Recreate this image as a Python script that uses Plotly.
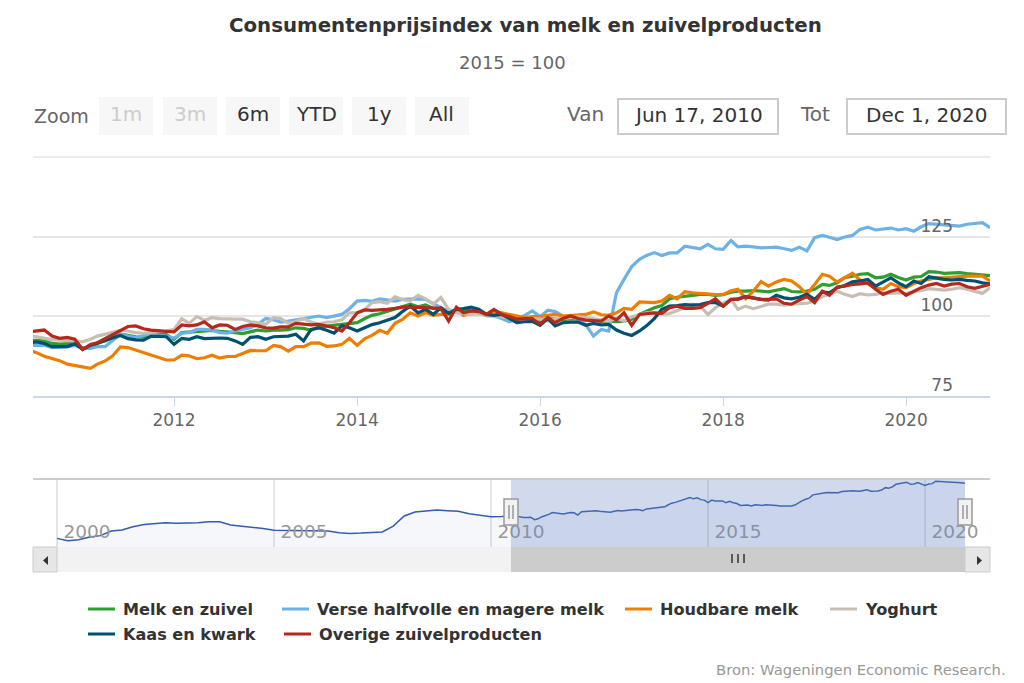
import plotly.graph_objects as go


def px_x(x):
    return x / 1024


def px_y(y):
    return 1 - y / 683


def box(x0, y0, x1, y1, fill, line='rgba(0,0,0,0)', width=0):
    return dict(type='rect', xref='paper', yref='paper', x0=px_x(x0), x1=px_x(x1), y0=px_y(y0), y1=px_y(y1),
                fillcolor=fill, line=dict(color=line, width=width))


def seg(x0, y0, x1, y1, color, width=1):
    return dict(type='line', xref='paper', yref='paper', x0=px_x(x0), x1=px_x(x1), y0=px_y(y0), y1=px_y(y1),
                line=dict(color=color, width=width))


def arrow(x0, x1, y0, y1):
    # x0 is the side of the base, x1 the point
    path = 'M {} {} L {} {} L {} {} Z'.format(px_x(x0), px_y(y0), px_x(x1), px_y((y0 + y1) / 2), px_x(x0), px_y(y1))
    return dict(type='path', xref='paper', yref='paper', path=path, fillcolor='#333333', line=dict(width=0))


def label(x, y, text, size, color, anchor='left', bold=False):
    return dict(xref='paper', yref='paper', x=px_x(x), y=px_y(y), text='<b>{}</b>'.format(text) if bold else text,
                showarrow=False, xanchor=anchor, yanchor='middle', font=dict(size=size, color=color))


def main():
    print('building the series...')
    # monthly values, Jun 2010 up to Dec 2020
    dates = ['2010-06-01']
    for year in range(2010, 2021):
        for month in range(1, 13):
            if year > 2010 or month > 6:
                dates.append('{}-{:02d}-01'.format(year, month))

    melk = [92.5, 92.5, 92.2, 91.5, 91.3, 91.3, 91.5, 90.0, 90.5, 91.7, 92.3, 93.3, 94.4, 94.0, 93.6, 93.5, 94.0, 94.4,
            94.3, 92.8, 94.9, 95.1, 95.2, 95.5, 95.6, 95.3, 95.2, 94.9, 94.6, 95.2, 95.7, 95.4, 95.7, 95.7, 95.8, 96.4,
            96.2, 95.6, 96.7, 96.9, 97.2, 97.3, 97.8,
            98.0, 99.3, 100.3, 100.8, 101.5, 102.2, 103.0, 103.8, 103.0, 103.6, 102.5, 102.2, 100.6, 102.2, 101.7,
            101.9, 101.7, 100.6, 101.5, 100.6, 100.1, 98.9, 99.1, 99.1, 98.5, 99.3, 99.1, 98.9, 99.3, 99.3, 99.1, 98.9,
            98.5, 98.5, 98.3, 98.5, 99.1, 100.6, 101.7, 102.7,
            103.4, 105.5, 106.0, 106.2, 106.6, 106.9, 106.9, 106.6, 106.8, 107.6, 107.9, 107.9, 108.1, 107.9, 107.7,
            108.2, 108.7, 107.8, 107.7, 107.9, 108.5, 110.0, 109.7, 110.5, 112.1, 112.6, 113.2, 113.4, 112.1, 112.3,
            113.2, 112.2, 111.4, 112.3, 112.5, 114.0, 113.9, 113.5, 113.5, 113.7, 113.4, 113.2, 113.1, 112.8]

    verse = [90.9, 90.9, 90.9, 90.2, 90.3, 90.5, 90.9, 89.9, 89.9, 90.5, 90.5, 92.3, 94.4, 93.8, 93.3, 94.0, 94.4, 94.0,
             93.8, 93.2, 94.7, 94.9, 95.9, 95.9, 95.7, 94.9, 94.7, 95.4, 95.9, 96.4, 97.5, 99.3, 98.9, 98.2, 98.5, 98.9,
             99.1, 99.6, 100.1, 99.6, 100.1, 100.6, 102.4,
             104.8, 105.0, 104.7, 105.5, 105.2, 104.8, 105.3, 105.5, 105.5, 105.3, 104.0, 102.7, 101.7, 101.7, 101.1,
             101.1, 101.1, 100.1, 100.1, 99.3, 98.3, 99.3, 100.3, 101.7, 99.9, 101.9, 101.5, 100.1, 99.9, 99.1, 97.5,
             93.8, 95.9, 95.4, 107.4, 111.6, 115.6, 117.9, 119.1, 120.0,
             119.1, 119.9, 119.9, 122.0, 121.7, 121.2, 122.6, 121.2, 121.0, 123.8, 121.8, 122.0, 121.8, 121.5, 121.6,
             121.7, 121.2, 120.7, 121.7, 120.5, 124.7, 125.4, 124.8, 124.1, 124.9, 125.4, 127.3, 128.0, 127.1, 127.5,
             127.7, 127.1, 127.5, 126.7, 128.1, 129.1, 128.9, 128.7, 128.3, 128.3, 128.9, 129.1, 129.4, 127.8]

    houdbaar = [89.4, 88.6, 87.5, 86.7, 86.1, 85.0, 84.6, 84.2, 83.7, 85.0, 86.0, 87.6, 90.4, 90.2, 89.4, 88.5, 87.8,
                87.1, 86.3, 86.3, 87.8, 87.6, 86.7, 87.0, 87.8, 86.9, 87.4, 87.4, 88.4, 89.3, 89.2, 89.2, 90.9, 90.5,
                89.1, 90.5, 90.5, 91.6, 91.7, 90.6, 90.7, 91.2, 93.1,
                90.9, 93.0, 94.0, 95.6, 94.7, 97.8, 99.0, 101.1, 100.1, 101.1, 100.3, 100.6, 100.6, 102.2, 100.3, 101.1,
                101.4, 100.6, 101.5, 101.1, 100.6, 99.9, 99.6, 99.9, 99.9, 100.3, 100.6, 100.1, 100.3, 100.5, 100.6,
                101.4, 100.5, 100.3, 101.1, 102.5, 102.2, 104.5, 104.3, 104.3,
                104.8, 106.6, 105.5, 107.7, 107.4, 107.2, 107.0, 106.8, 106.9, 108.0, 108.5, 105.5, 107.9, 110.9, 109.5,
                110.8, 111.6, 111.1, 109.3, 106.9, 110.0, 113.2, 112.6, 110.8, 112.1, 113.5, 111.4, 110.3, 109.0, 108.5,
                110.3, 109.3, 109.0, 110.3, 111.1, 111.6, 112.1, 112.1, 112.3, 112.3, 112.6, 112.6, 112.6, 111.1]

    yoghurt = [94.0, 93.5, 93.0, 92.7, 92.5, 92.5, 92.3, 92.0, 92.8, 93.8, 94.4, 94.9, 95.6, 95.4, 94.9, 94.7, 94.9,
               95.1, 95.4, 95.9, 99.3, 97.8, 99.9, 98.8, 99.6, 99.3, 99.1, 99.1, 99.1, 98.3, 98.0, 97.5, 99.6, 99.3,
               97.8, 98.4, 99.3, 98.2, 97.5, 98.2, 98.3, 98.9, 101.1,
               101.1, 102.2, 104.3, 104.6, 104.1, 106.1, 105.3, 104.8, 106.6, 105.5, 103.8, 105.9, 102.2, 101.1, 100.9,
               100.6, 100.8, 100.3, 100.1, 99.9, 99.3, 98.0, 98.5, 99.3, 99.1, 98.5, 99.1, 99.3, 99.4, 99.8, 99.6, 99.3,
               98.9, 98.5, 99.4, 98.5, 99.9, 100.6, 101.1, 101.1,
               100.6, 100.9, 101.7, 102.7, 103.8, 103.2, 100.6, 102.7, 104.1, 105.3, 102.2, 103.2, 102.4, 103.0, 103.8,
               103.8, 103.5, 103.8, 104.0, 104.1, 104.8, 106.2, 106.9, 107.9, 106.9, 106.2, 107.1, 106.7, 106.9, 107.4,
               107.2, 107.4, 107.2, 107.6, 108.1, 108.7, 108.5, 108.2, 108.5, 109.0, 108.5, 107.9, 107.2, 109.0]

    kaas = [91.7, 92.0, 91.5, 90.5, 90.5, 90.5, 91.4, 89.6, 90.9, 91.5, 92.5, 93.3, 94.0, 93.0, 92.6, 92.5, 93.7, 93.7,
            93.6, 91.2, 93.1, 92.8, 93.6, 93.0, 93.2, 93.2, 93.1, 92.3, 91.2, 93.4, 93.6, 92.8, 93.6, 93.6, 93.8, 94.4,
            92.3, 95.9, 96.4, 95.6, 94.7, 97.0, 96.4,
            95.4, 96.4, 97.4, 98.0, 98.8, 99.6, 101.5, 103.2, 101.1, 102.2, 100.6, 102.7, 100.9, 102.2, 102.4, 102.9,
            102.2, 100.6, 100.3, 100.6, 99.3, 98.0, 98.3, 98.4, 97.2, 99.3, 97.0, 98.0, 98.2, 98.2, 97.2, 97.8, 97.3,
            97.5, 95.7, 94.7, 94.0, 95.4, 97.0, 99.3,
            102.2, 103.2, 103.4, 103.7, 103.5, 103.7, 104.3, 104.3, 103.2, 105.3, 105.5, 106.2, 105.8, 105.3, 105.1,
            106.6, 105.8, 105.5, 106.0, 106.9, 105.3, 107.7, 107.4, 109.0, 109.7, 110.8, 111.1, 111.6, 109.5, 110.8,
            112.1, 110.5, 109.3, 111.1, 110.3, 112.4, 111.9, 111.6, 111.4, 111.6, 111.3, 111.1, 110.5, 110.2]

    overig = [95.1, 95.4, 95.7, 93.8, 93.1, 93.4, 92.8, 89.6, 91.2, 91.7, 93.0, 94.0, 95.4, 96.8, 97.0, 96.1, 95.7, 95.6,
              95.3, 95.1, 97.3, 97.0, 97.3, 98.3, 96.4, 97.3, 97.2, 95.9, 96.8, 97.3, 97.0, 96.4, 96.3, 96.7, 96.7, 97.8,
              97.6, 97.3, 97.5, 97.0, 96.4, 95.4, 98.0,
              101.1, 102.0, 101.9, 102.0, 102.2, 102.5, 102.9, 102.9, 102.8, 102.7, 102.6, 102.5, 98.5, 102.9, 101.1,
              101.7, 101.5, 100.6, 102.2, 100.6, 99.9, 99.1, 99.3, 99.3, 97.5, 99.6, 98.0, 99.3, 100.1, 99.3, 98.8, 98.6,
              98.5, 100.1, 98.9, 101.1, 97.2, 100.6, 100.9, 101.1,
              100.9, 102.7, 103.2, 102.5, 102.5, 102.7, 104.1, 105.5, 103.2, 105.3, 105.3, 106.2, 105.7, 105.3, 105.3,
              105.5, 104.1, 103.8, 105.1, 106.2, 104.3, 107.9, 106.6, 109.2, 109.5, 110.0, 110.2, 110.5, 108.5, 106.9,
              107.9, 108.5, 106.6, 107.9, 109.0, 109.8, 110.3, 109.5, 110.1, 110.3, 109.3, 108.8, 109.5, 110.0]

    # navigator only, quarterly from 2000 until the monthly data starts
    nav_dates = []
    for year in range(2000, 2011):
        for month in [1, 4, 7, 10]:
            if year < 2010 or month < 7:
                nav_dates.append('{}-{:02d}-01'.format(year, month))
    nav_values = [78.3, 76.8, 77.5, 79.1, 80.0, 82.9, 83.5, 85.6, 87.0, 87.7, 88.1, 87.7, 87.7, 88.1, 88.7, 88.7, 86.6,
                  86.0, 85.2, 84.5, 83.3, 83.3, 83.1, 83.1, 83.3, 82.9, 81.8, 81.4, 81.6, 82.0, 82.3, 86.0, 92.3, 94.8,
                  95.4, 96.0, 95.6, 95.2, 93.7, 92.9, 91.8, 92.0]

    series = [('Melk en zuivel', melk, '#2e9e2e'),
              ('Verse halfvolle en magere melk', verse, '#6cb2e6'),
              ('Houdbare melk', houdbaar, '#ef7d00'),
              ('Yoghurt', yoghurt, '#c7beb3'),
              ('Kaas en kwark', kaas, '#00506f'),
              ('Overige zuivelproducten', overig, '#b5281c')]

    print('generating line chart with plotly graph object...')
    fig = go.Figure()
    for name, values, colour in series:
        assert len(values) == len(dates), '{} has {} values'.format(name, len(values))
        fig.add_trace(go.Scatter(x=dates, y=values, mode='lines', name=name, showlegend=False,
                                 line=dict(color=colour, width=3.2)))

    fig.add_trace(go.Scatter(x=nav_dates + dates[1:], y=nav_values + melk[1:], mode='lines', name='Navigator',
                             showlegend=False, xaxis='x2', yaxis='y2', fill='tozeroy',
                             fillcolor='rgba(51,92,173,0.05)', line=dict(color='#335cad', width=1.5)))

    fig.update_layout(width=1024, height=683, margin=dict(l=0, r=0, t=0, b=0), paper_bgcolor='white',
                      plot_bgcolor='rgba(0,0,0,0)', font=dict(family='DejaVu Sans', color='#666666'))

    fig.update_layout(xaxis=dict(domain=[px_x(33), px_x(990)], range=['2010-06-17', '2020-12-01'], type='date',
                                 tick0='2012-01-01', dtick='M24', tickformat='%Y', showgrid=False, zeroline=False,
                                 showline=True, linecolor='#ccd6eb', linewidth=1.5, ticks='outside', ticklen=8,
                                 tickcolor='#ccd6eb', tickfont=dict(size=17, color='#666666')),
                      yaxis=dict(domain=[px_y(396), px_y(157)], range=[75, 150], side='right',
                                 tickvals=[75, 100, 125], ticktext=['75', '100', '125'],
                                 ticklabelposition='inside', ticklabelstandoff=34, ticklabelshift=-11,
                                 gridcolor='#e6e6e6', gridwidth=1.5, zeroline=False,
                                 tickfont=dict(size=17, color='#666666')),
                      xaxis2=dict(domain=[px_x(33), px_x(990)], range=['1999-06-13', '2021-07-01'], type='date',
                                  anchor='y2', tick0='2000-01-01', dtick='M60', tickformat='%Y', gridcolor='#e6e6e6',
                                  gridwidth=1.5, zeroline=False, ticklabelposition='inside', ticklabelshift=30,
                                  ticklabelstandoff=2, tickfont=dict(size=18.5, color='#999999')),
                      yaxis2=dict(domain=[px_y(547), px_y(479)], range=[72.9, 115.4], anchor='x2', showgrid=False,
                                  zeroline=False, showticklabels=False))

    # range selector, date inputs, scrollbar: highstock furniture
    shapes = []
    for x0 in [99, 163, 226, 289, 352, 415]:
        shapes.append(box(x0, 97, x0 + 54, 135, '#f7f7f7'))
    shapes.append(box(618, 99, 778, 134, 'white', '#cccccc', 2))
    shapes.append(box(847, 99, 1006, 134, 'white', '#cccccc', 2))
    shapes.append(seg(33, 157, 990, 157, '#e6e6e6', 1.5))  # gridline at 150, no label in the original

    mask = box(511, 479, 965, 547, 'rgba(102,133,194,0.3)')
    shapes.append(mask)
    shapes.append(seg(33, 479, 990, 479, '#cccccc', 2))
    shapes.append(box(33, 547, 990, 572, '#f2f2f2'))
    shapes.append(box(511, 547, 965, 572, '#cccccc'))
    shapes.append(box(33, 547, 57, 572, '#e6e6e6', '#cccccc', 1))
    shapes.append(box(965, 547, 990, 572, '#e6e6e6', '#cccccc', 1))
    shapes.append(arrow(48, 43, 556, 565))
    shapes.append(arrow(977, 982, 556, 565))
    for x in [732, 738, 744]:
        shapes.append(seg(x, 554, x, 563, '#333333', 1.5))
    for x in [511, 965]:  # handles
        shapes.append(box(x - 7, 499, x + 7, 525, '#f2f2f2', '#999999', 1.5))
        shapes.append(seg(x - 2, 505, x - 2, 519, '#999999', 1.5))
        shapes.append(seg(x + 2, 505, x + 2, 519, '#999999', 1.5))

    texts = [label(525, 25, 'Consumentenprijsindex van melk en zuivelproducten', 19.8, '#333333', 'center', True),
             label(512, 63, '2015 = 100', 18, '#666666', 'center'),
             label(32, 116, 'Zoom', 19, '#666666'),
             label(565, 114, 'Van', 20, '#666666'),
             label(798, 114, 'Tot', 20, '#666666'),
             label(698, 115, 'Jun 17, 2010', 20, '#333333', 'center'),
             label(926, 115, 'Dec 1, 2020', 20, '#333333', 'center'),
             label(1008, 669, 'Bron: Wageningen Economic Research.', 14.8, '#999999', 'right')]
    buttons = [('1m', 126, '#cccccc'), ('3m', 190, '#cccccc'), ('6m', 253, '#333333'),
               ('YTD', 316, '#333333'), ('1y', 379, '#333333'), ('All', 441, '#333333')]
    for text, x, colour in buttons:
        texts.append(label(x, 114, text, 20, colour, 'center'))

    # legend, placed by hand since the rows do not line up in columns
    places = [(88, 609), (282, 609), (625, 609), (830, 609), (88, 634), (284, 634)]
    for (name, values, colour), (x, y) in zip(series, places):
        shapes.append(seg(x, y, x + 27, y, colour, 3))
        texts.append(label(x + 33, y, name, 16.1, '#333333', 'left', True))

    fig.update_layout(shapes=shapes, annotations=texts)

    print('saving page...')
    fig.write_html('out.html', config={'displayModeBar': False},
                   post_script="document.body.style.margin='0';")
    print('done')


main()
